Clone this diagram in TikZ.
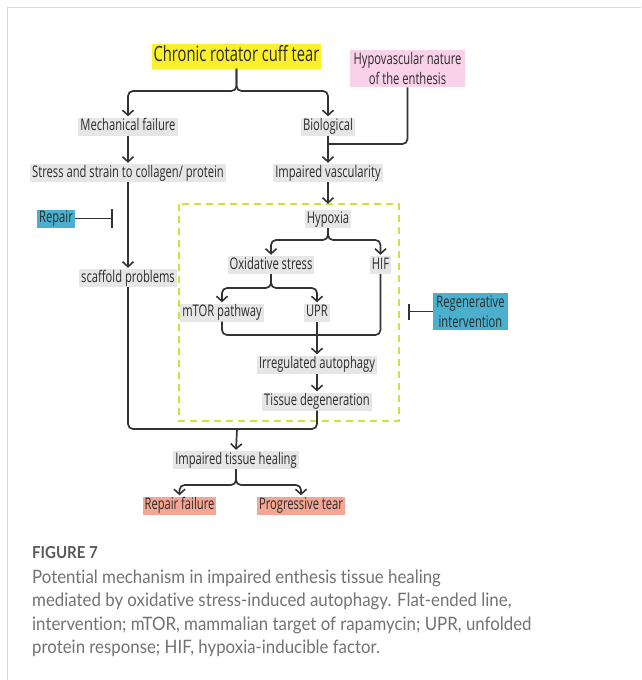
\documentclass[tikz,border=0pt]{standalone}
\usepackage{fontspec}
\setmainfont{Open Sans}
\newfontfamily\dfont[FakeStretch=0.70]{Open Sans}
\newfontfamily\cfont[FakeStretch=0.91, Ligatures=NoCommon]{Lato}
\usetikzlibrary{arrows.meta}
\definecolor{boxgray}{HTML}{E6E6E6}
\definecolor{ttl}{HTML}{FCEF2C}
\definecolor{pinkb}{HTML}{F9D2EA}
\definecolor{blueb}{HTML}{4AB0CD}
\definecolor{salmon}{HTML}{F5A594}
\definecolor{dgreen}{HTML}{CDE04A}
\definecolor{lnc}{HTML}{333333}
\definecolor{txt}{HTML}{2B2B2B}
\definecolor{capc}{HTML}{737373}
\definecolor{figc}{HTML}{5A5A5A}
\definecolor{framec}{HTML}{D9D9D9}
\begin{document}
\begin{tikzpicture}[x=1pt,y=-1pt,
  bx/.style={font=\dfont\fontsize{16}{18}\selectfont, text=txt, inner xsep=2pt, inner ysep=1.5pt, text height=11.5pt, text depth=3.5pt, fill=boxgray},
  twol/.style={font=\dfont\fontsize{16}{20}\selectfont, text=txt, align=center, inner xsep=3.5pt, inner ysep=2.5pt},
  ln/.style={line width=1.7pt, draw=lnc, rounded corners=5pt},
  arr/.style={ln, -{Straight Barb[length=5pt,width=11pt,line width=1.6pt]}, shorten >=1pt},
  blk/.style={ln, -{Bar[width=#1,line width=1.7pt]}},
  capl/.style={font=\cfont\fontsize{18.5}{22}\selectfont, text=capc, anchor=base west, inner sep=0pt}
]
\useasboundingbox (0,0) rectangle (641,680);
\fill[white] (0,0) rectangle (641,680);
\draw[framec, line width=1pt] (7.5,680) -- (7.5,7.5) -- (641,7.5);

% dashed region
\draw[dgreen, line width=1.6pt, dash pattern=on 7pt off 5pt] (179,204) rectangle (399,421);

% nodes
\node[font=\dfont\fontsize{21}{24}\selectfont, text=txt, fill=ttl, inner xsep=2pt, inner ysep=2.5pt, text height=15pt, text depth=5pt] (chronic) at (236.5,56) {Chronic rotator cuff tear};
\node[twol, fill=pinkb] (hypo) at (407.5,68.5) {Hypovascular nature\\of the enthesis};
\node[bx] (mech) at (128,126.5) {Mechanical failure};
\node[bx] (bio) at (328,126.5) {Biological};
\node[bx] (stress) at (128,173) {Stress and strain to collagen/ protein};
\node[bx] (impvas) at (328,173) {Impaired vascularity};
\node[bx, fill=blueb] (repair) at (56,218.5) {Repair};
\node[bx] (hypoxia) at (328,219) {Hypoxia};
\node[bx] (scaffold) at (128,278) {scaffold problems};
\node[bx] (oxid) at (271,265) {Oxidative stress};
\node[bx] (hif) at (380.5,265) {HIF};
\node[bx] (mtor) at (222,312.5) {mTOR pathway};
\node[bx] (upr) at (317,312.5) {UPR};
\node[twol, fill=blueb] (regen) at (470.5,311.5) {Regenerative\\intervention};
\node[bx] (irreg) at (317,364.5) {Irregulated autophagy};
\node[bx] (tissue) at (317,401.5) {Tissue degeneration};
\node[bx] (healing) at (236,460) {Impaired tissue healing};
\node[bx, fill=salmon] (rfail) at (179.5,505.5) {Repair failure};
\node[bx, fill=salmon] (ptear) at (301,505.5) {Progressive tear};

% junction coordinates
\coordinate (j1) at (236.5,91);
\coordinate (j2) at (407.5,144);
\coordinate (j3) at (328,240);
\coordinate (j4) at (271,288);
\coordinate (j5) at (317,335);
\coordinate (j6) at (237,429);
\coordinate (j7) at (236,485);
\coordinate (rb) at (113,218.5);
\coordinate (gb) at (408,311.5);

% connectors
\draw[arr] (chronic.south) -- (j1) -| (mech.north);
\draw[arr] (chronic.south) -- (j1) -| (bio.north);
\draw[arr] (mech.south) -- (stress.north);
\draw[arr] (bio.south) -- (impvas.north);
\draw[ln] (hypo.south) -- (j2) -- (bio.south |- j2);
\draw[arr] (stress.south) -- (scaffold.north);
\draw[arr, shorten >=6pt] (impvas.south) -- (hypoxia.north);
\draw[arr] (hypoxia.south) -- (j3) -| (oxid.north);
\draw[arr] (hypoxia.south) -- (j3) -| (hif.north);
\draw[arr] (oxid.south) -- (j4) -| (mtor.north);
\draw[arr] (oxid.south) -- (j4) -| (upr.north);
\draw[ln] (mtor.south) |- (j5 -| hif.south) -- (hif.south);
\draw[arr] (upr.south) -- (irreg.north);
\draw[arr] (irreg.south) -- (tissue.north);
\draw[ln] (tissue.south) |- (j6) -| (scaffold.south);
\draw[arr] (j6) -- (healing.north);
\draw[arr] (healing.south) -- (j7) -| (rfail.north);
\draw[arr] (healing.south) -- (j7) -| (ptear.north);
\draw[blk=19pt] (repair.east) -- (rb);
\draw[blk=16pt] (regen.west) -- (gb);

% caption
\node[font=\cfont\bfseries\fontsize{16.5}{18}\selectfont, text=figc, anchor=base west, inner sep=0pt] (fig) at (32,558) {FIGURE 7};
\node[capl] (c1) at (32,583) {Potential mechanism in impaired enthesis tissue healing};
\node[capl] (c2) at (32,606.5) {mediated by oxidative stress-induced autophagy. Flat-ended line,};
\node[capl] (c3) at (32,630) {intervention; mTOR, mammalian target of rapamycin; UPR, unfolded};
\node[capl] (c4) at (32,653) {protein response; HIF, hypoxia-inducible factor.};
\end{tikzpicture}
\end{document}
